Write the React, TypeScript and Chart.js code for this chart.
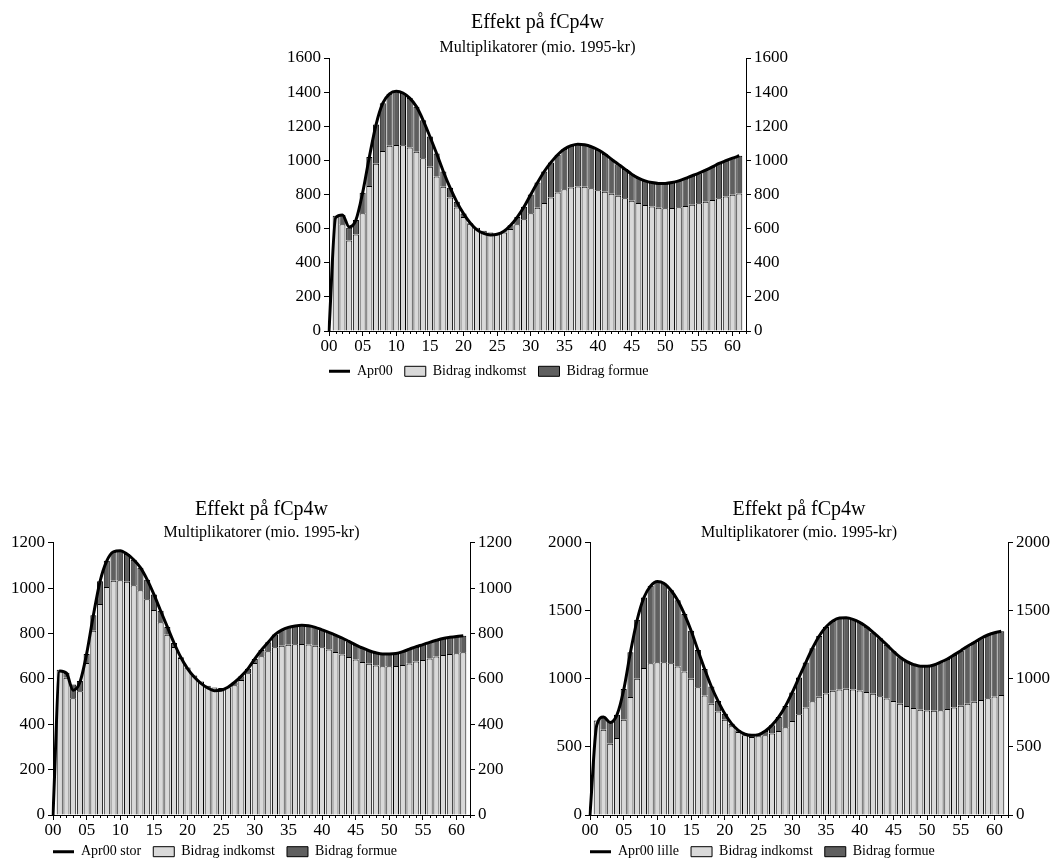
import React, { useEffect, useRef } from 'react';
import { Chart, registerables } from 'chart.js';

Chart.register(...registerables);
Chart.defaults.font.family = "'Liberation Serif', 'Times New Roman', serif";
Chart.defaults.color = '#000';

// ---------- data ----------
const QUARTERS = [
  '00', '01', '02', '03', '04', '05', '06', '07', '08', '09',
  '10', '11', '12', '13', '14', '15', '16', '17', '18', '19',
  '20', '21', '22', '23', '24', '25', '26', '27', '28', '29',
  '30', '31', '32', '33', '34', '35', '36', '37', '38', '39',
  '40', '41', '42', '43', '44', '45', '46', '47', '48', '49',
  '50', '51', '52', '53', '54', '55', '56', '57', '58', '59',
  '60', '61', '62',
];

const TITLE = 'Effekt på fCp4w';
const SUBTITLE = 'Multiplikatorer (mio. 1995-kr)';
const INCOME_LABEL = 'Bidrag indkomst';
const WEALTH_LABEL = 'Bidrag formue';

// Top panel
const TOP_LINE_LABEL = 'Apr00';
const TOP_Y_TICKS = [0, 200, 400, 600, 800, 1000, 1200, 1400, 1600];
const TOP_LINE = [
  0, 665, 680, 610, 650, 810, 1020, 1210, 1335, 1390,
  1405, 1395, 1365, 1315, 1235, 1140, 1040, 935, 840, 757,
  688, 633, 593, 572, 563, 567, 585, 620, 668, 728,
  800, 870, 935, 988, 1033, 1066, 1086, 1095, 1091, 1080,
  1062, 1037, 1007, 978, 949, 919, 896, 880, 870, 865,
  865, 870, 880, 894, 910, 925, 943, 962, 982, 998,
  1013, 1027, null,
];
const TOP_INCOME = [
  null, 675, 625, 530, 565, 690, 850, 980, 1055, 1085,
  1090, 1088, 1075, 1050, 1012, 962, 906, 845, 783, 724,
  668, 628, 605, 588, 578, 572, 578, 598, 625, 655,
  690, 722, 750, 782, 812, 831, 841, 847, 845, 837,
  825, 816, 805, 792, 778, 764, 750, 739, 729, 723,
  720, 721, 725, 732, 740, 748, 758, 768, 778, 788,
  798, 806, null,
];
const TOP_WEALTH = [
  null, 0, 55, 75, 85, 120, 170, 230, 280, 305,
  315, 307, 290, 265, 223, 178, 134, 90, 57, 33,
  20, 5, 0, 0, 0, 0, 7, 22, 43, 73,
  110, 148, 185, 206, 221, 235, 245, 248, 246, 243,
  237, 221, 202, 186, 171, 155, 146, 141, 141, 142,
  145, 149, 155, 162, 170, 177, 185, 194, 204, 210,
  215, 221, null,
];

// Bottom-left panel
const STOR_LINE_LABEL = 'Apr00 stor';
const STOR_Y_TICKS = [0, 200, 400, 600, 800, 1000, 1200];
const STOR_LINE = [
  0, 635, 625, 550, 585, 710, 880, 1030, 1120, 1160,
  1165, 1150, 1125, 1090, 1037, 972, 900, 829, 758, 695,
  645, 608, 580, 560, 548, 550, 563, 585, 612, 645,
  688, 727, 761, 795, 815, 827, 833, 836, 834, 827,
  816, 805, 793, 780, 765, 750, 736, 724, 715, 710,
  710, 712, 720, 731, 742, 751, 761, 770, 778, 783,
  787, 790, null,
];
const STOR_INCOME = [
  null, 640, 605, 515, 545, 670, 812, 930, 1005, 1032,
  1035, 1028, 1012, 990, 951, 903, 849, 794, 740, 692,
  650, 615, 588, 570, 562, 560, 563, 572, 595, 625,
  670, 700, 722, 739, 746, 750, 753, 754, 751, 746,
  739, 729, 718, 707, 696, 685, 674, 666, 659, 655,
  655, 657, 661, 668, 676, 683, 690, 698, 705, 710,
  713, 717, null,
];
const STOR_WEALTH = [
  null, 0, 22, 60, 45, 40, 68, 100, 115, 128,
  130, 122, 113, 100, 86, 69, 51, 35, 18, 3,
  0, 0, 0, 0, 0, 0, 0, 13, 17, 20,
  18, 27, 39, 56, 69, 77, 80, 82, 83, 81,
  77, 76, 75, 73, 69, 65, 62, 58, 56, 55,
  55, 55, 59, 63, 66, 68, 71, 72, 73, 73,
  74, 73, null,
];

// Bottom-right panel
const LILLE_LINE_LABEL = 'Apr00 lille';
const LILLE_Y_TICKS = [0, 500, 1000, 1500, 2000];
const LILLE_LINE = [
  0, 660, 720, 680, 735, 920, 1195, 1434, 1598, 1683,
  1715, 1700, 1651, 1578, 1476, 1354, 1212, 1073, 944, 837,
  744, 671, 622, 593, 585, 590, 617, 660, 720, 800,
  900, 1010, 1120, 1225, 1315, 1380, 1425, 1447, 1448, 1437,
  1415, 1383, 1341, 1298, 1251, 1202, 1159, 1127, 1105, 1093,
  1093, 1102, 1122, 1146, 1176, 1207, 1239, 1268, 1298, 1322,
  1339, 1349, null,
];
const LILLE_INCOME = [
  null, 695, 627, 524, 566, 700, 866, 1000, 1080, 1115,
  1122, 1122, 1115, 1090, 1054, 1000, 939, 878, 817, 761,
  700, 651, 610, 585, 573, 578, 585, 598, 617, 645,
  690, 740, 790, 835, 868, 892, 912, 922, 927, 922,
  915, 903, 890, 873, 855, 837, 818, 800, 785, 773,
  767, 766, 770, 778, 790, 803, 817, 831, 845, 858,
  870, 882, null,
];
const LILLE_WEALTH = [
  null, 0, 95, 165, 170, 225, 329, 434, 518, 568,
  593, 578, 536, 488, 422, 354, 273, 195, 127, 76,
  44, 20, 12, 8, 12, 12, 32, 62, 103, 155,
  210, 270, 330, 390, 447, 488, 513, 525, 521, 515,
  500, 480, 451, 425, 396, 365, 341, 327, 320, 320,
  326, 336, 352, 368, 386, 404, 422, 437, 453, 464,
  469, 467, null,
];

// ---------- styling ----------
const LIGHT = '#d9d9d9';
const DARK = '#5f5f5f';
const AXIS_W = 50;
const X_AXIS_H = 26;

const minorTicks = {
  id: 'minorTicks',
  afterDraw(chart: any) {
    const xs = chart.scales.x;
    const ctx = chart.ctx;
    const bottom = chart.chartArea.bottom;
    ctx.save();
    ctx.strokeStyle = '#000';
    ctx.lineWidth = 1;
    ctx.beginPath();
    xs.ticks.forEach((_t: any, i: number) => {
      if (i % 5 !== 0) {
        const px = Math.round(xs.getPixelForTick(i)) + 0.5;
        ctx.moveTo(px, bottom);
        ctx.lineTo(px, bottom + 3);
      }
    });
    ctx.stroke();
    ctx.restore();
  },
};

type PanelProps = {
  lineLabel: string;
  line: (number | null)[];
  income: (number | null)[];
  wealth: (number | null)[];
  yTicks: number[];
  left: number;
  top: number;
  width: number;
  height: number;
  titlePad: { top: number; bottom: number };
  subPad: { top: number; bottom: number };
  legendGap: number;
};

function buildConfig(p: PanelProps): any {
  const yMin = p.yTicks[0];
  const yMax = p.yTicks[p.yTicks.length - 1];
  const step = p.yTicks[1] - p.yTicks[0];
  const yAxis = (position: string, stacked: boolean) => ({
    position,
    stacked,
    min: yMin,
    max: yMax,
    ticks: {
      stepSize: step,
      padding: 3,
      color: '#000',
      font: { size: 17 },
      callback: (v: any) => String(v),
    },
    grid: {
      display: true,
      drawOnChartArea: false,
      drawTicks: true,
      tickLength: 5,
      tickColor: '#000',
      color: '#000',
    },
    border: { display: true, color: '#000', width: 1 },
    afterFit: (s: any) => {
      s.width = AXIS_W;
    },
  });

  const placeLegend = {
    id: 'placeLegend',
    afterLayout(chart: any) {
      const lg = chart.legend;
      if (!lg) return;
      const pad = lg.options.labels.padding;
      const h = lg.height;
      lg.left = chart.chartArea.left - pad;
      lg.top = chart.chartArea.bottom + p.legendGap;
      lg.bottom = lg.top + h;
    },
  };

  return {
    type: 'bar',
    data: {
      labels: QUARTERS,
      datasets: [
        {
          type: 'line',
          label: p.lineLabel,
          data: p.line,
          borderColor: '#000',
          backgroundColor: '#000',
          borderWidth: 3,
          pointRadius: 0,
          cubicInterpolationMode: 'monotone',
          fill: false,
          stack: 'line',
          order: 0,
        },
        {
          type: 'bar',
          label: INCOME_LABEL,
          data: p.income,
          backgroundColor: LIGHT,
          borderColor: '#000',
          borderWidth: 1,
          stack: 'bars',
          order: 1,
          barPercentage: 0.9,
          categoryPercentage: 1.0,
        },
        {
          type: 'bar',
          label: WEALTH_LABEL,
          data: p.wealth,
          backgroundColor: DARK,
          borderColor: '#000',
          borderWidth: 1,
          stack: 'bars',
          order: 1,
          barPercentage: 0.9,
          categoryPercentage: 1.0,
        },
      ],
    },
    options: {
      responsive: false,
      maintainAspectRatio: false,
      animation: false,
      devicePixelRatio: 1,
      layout: { padding: 0 },
      scales: {
        x: {
          type: 'category',
          stacked: true,
          offset: false,
          ticks: {
            autoSkip: false,
            maxRotation: 0,
            minRotation: 0,
            padding: 0,
            color: '#000',
            font: { size: 17 },
            callback: function (this: any, value: any, index: number) {
              return index % 5 === 0 ? this.getLabelForValue(value) : '';
            },
          },
          grid: {
            display: true,
            offset: false,
            drawOnChartArea: false,
            drawTicks: true,
            tickLength: 5,
            tickColor: (ctx: any) => (ctx.index % 5 === 0 ? '#000' : 'rgba(0,0,0,0)'),
          },
          border: { display: true, color: '#000', width: 1 },
          afterFit: (s: any) => {
            s.height = X_AXIS_H;
          },
        },
        y: yAxis('left', true),
        y2: yAxis('right', false),
      },
      plugins: {
        title: {
          display: true,
          text: TITLE,
          color: '#000',
          font: { size: 20, weight: 'normal' },
          padding: p.titlePad,
        },
        subtitle: {
          display: true,
          text: SUBTITLE,
          color: '#000',
          font: { size: 16, weight: 'normal' },
          padding: p.subPad,
        },
        legend: {
          display: true,
          position: 'bottom',
          align: 'start',
          labels: {
            color: '#000',
            font: { size: 14 },
            usePointStyle: true,
            pointStyleWidth: 21,
            boxHeight: 10,
            padding: 12,
            generateLabels: (chart: any) => {
              const items = Chart.defaults.plugins.legend.labels.generateLabels(chart);
              items.forEach((it: any) => {
                const ds = chart.data.datasets[it.datasetIndex];
                if (ds.type === 'line') {
                  it.pointStyle = 'line';
                  it.lineWidth = 3;
                  it.strokeStyle = '#000';
                } else {
                  it.pointStyle = 'rect';
                  it.lineWidth = 1;
                  it.strokeStyle = '#000';
                }
              });
              return items;
            },
          },
        },
        tooltip: { enabled: false },
      },
    },
    plugins: [minorTicks, placeLegend],
  };
}

function Panel(p: PanelProps) {
  const ref = useRef<HTMLCanvasElement | null>(null);
  useEffect(() => {
    if (!ref.current) return;
    const chart = new Chart(ref.current, buildConfig(p));
    return () => chart.destroy();
  }, []);
  return (
    <canvas
      ref={ref}
      width={p.width}
      height={p.height}
      style={{
        position: 'absolute',
        left: p.left,
        top: p.top,
        width: p.width,
        height: p.height,
      }}
    />
  );
}

export default function App() {
  return (
    <div
      style={{
        position: 'absolute',
        left: 0,
        top: 0,
        width: 1051,
        height: 864,
        overflow: 'hidden',
        background: '#fff',
      }}
    >
      <Panel
        lineLabel={TOP_LINE_LABEL}
        line={TOP_LINE}
        income={TOP_INCOME}
        wealth={TOP_WEALTH}
        yTicks={TOP_Y_TICKS}
        left={279}
        top={0}
        width={517}
        height={393}
        titlePad={{ top: 10.6, bottom: 3.3 }}
        subPad={{ top: 0, bottom: 0.9 }}
        legendGap={21.3}
      />
      <Panel
        lineLabel={STOR_LINE_LABEL}
        line={STOR_LINE}
        income={STOR_INCOME}
        wealth={STOR_WEALTH}
        yTicks={STOR_Y_TICKS}
        left={3}
        top={487}
        width={517}
        height={390}
        titlePad={{ top: 10.5, bottom: 2 }}
        subPad={{ top: 0, bottom: 0 }}
        legendGap={17.7}
      />
      <Panel
        lineLabel={LILLE_LINE_LABEL}
        line={LILLE_LINE}
        income={LILLE_INCOME}
        wealth={LILLE_WEALTH}
        yTicks={LILLE_Y_TICKS}
        left={540}
        top={487}
        width={518}
        height={390}
        titlePad={{ top: 10.5, bottom: 2 }}
        subPad={{ top: 0, bottom: 0 }}
        legendGap={17.7}
      />
    </div>
  );
}
